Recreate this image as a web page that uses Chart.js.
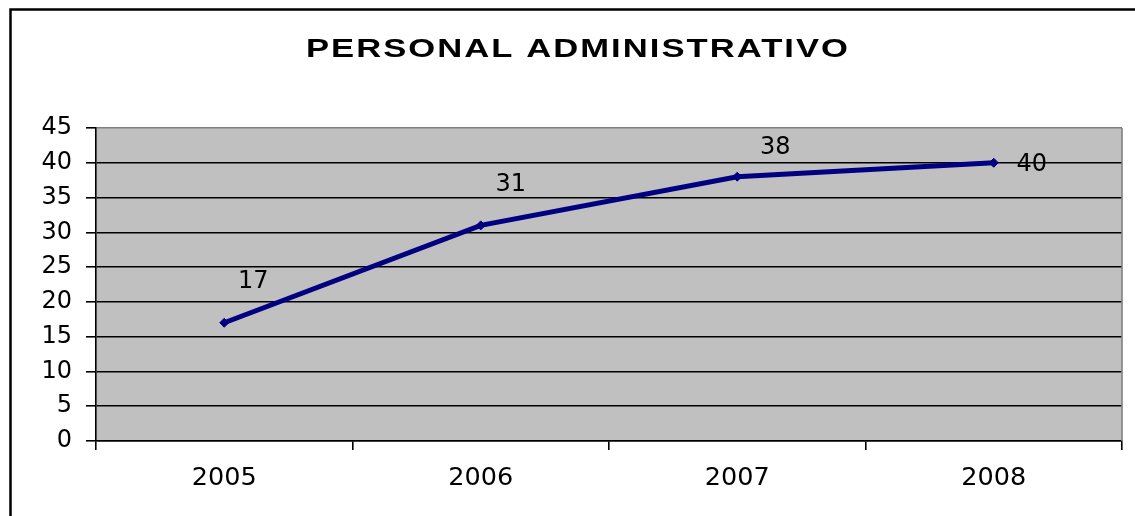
<!DOCTYPE html>
<html>
<head>
<meta charset="utf-8">
<script src="https://cdn.jsdelivr.net/npm/chart.js@4.4.1/dist/chart.umd.min.js"></script>
<style>
  html, body { margin: 0; padding: 0; background: #ffffff; }
  #wrap { width: 1135px; height: 516px; }
</style>
</head>
<body>
<div id="wrap"><canvas id="c" width="1135" height="516"></canvas></div>
<script>
// ---- data ----
const chartTitle = 'PERSONAL ADMINISTRATIVO';
const categories = ['2005', '2006', '2007', '2008'];
const personalValues = [17, 31, 38, 40];
const yMin = 0;
const yMax = 45;
const yStep = 5;

// ---- plugins ----
const framePlugin = {
  id: 'frame',
  beforeDraw(chart) {
    const { ctx, chartArea: a } = chart;
    ctx.save();
    ctx.fillStyle = '#ffffff';
    ctx.fillRect(0, 0, chart.width, chart.height);
    ctx.fillStyle = '#C0C0C0';
    ctx.fillRect(a.left, a.top, a.right - a.left, a.bottom - a.top);
    ctx.restore();
  },
  afterDraw(chart) {
    const { ctx, chartArea: a } = chart;
    ctx.save();
    // right plot border (gray)
    ctx.strokeStyle = '#808080';
    ctx.lineWidth = 1.6;
    ctx.beginPath();
    ctx.moveTo(a.right, a.top);
    ctx.lineTo(a.right, a.bottom);
    ctx.stroke();
    // outer chart frame
    ctx.strokeStyle = '#000000';
    ctx.lineWidth = 2.5;
    ctx.strokeRect(10.5, 9.5, 1200, 700);
    // title (horizontally widened, as in the reference)
    ctx.fillStyle = '#000000';
    ctx.font = 'bold 25.5px "Liberation Sans", Arial, sans-serif';
    ctx.letterSpacing = '1.5px';
    ctx.textBaseline = 'alphabetic';
    ctx.textAlign = 'center';
    const w = ctx.measureText(chartTitle).width - 1.5;
    const sx = 542 / w;
    ctx.translate(577, 57);
    ctx.scale(sx, 1);
    ctx.fillText(chartTitle, 0.75, 0);
    ctx.restore();
  }
};

const pointLabelPlugin = {
  id: 'pointLabels',
  afterDatasetsDraw(chart, args, opts) {
    const { ctx } = chart;
    const meta = chart.getDatasetMeta(0);
    const data = chart.data.datasets[0].data;
    ctx.save();
    ctx.fillStyle = '#000000';
    ctx.font = '24px "DejaVu Sans", sans-serif';
    ctx.textAlign = 'center';
    ctx.textBaseline = 'middle';
    meta.data.forEach((pt, i) => {
      const off = opts.offsets[i] || [0, -30];
      ctx.fillText(String(data[i]), pt.x + off[0], pt.y + off[1]);
    });
    ctx.restore();
  }
};

new Chart(document.getElementById('c'), {
  type: 'line',
  data: {
    labels: categories,
    datasets: [{
      label: chartTitle,
      data: personalValues,
      borderColor: '#000080',
      backgroundColor: '#000080',
      borderWidth: 5,
      pointStyle: 'rectRot',
      pointRadius: 4.5,
      pointBorderWidth: 1,
      pointBackgroundColor: '#000080',
      pointBorderColor: '#000080',
      tension: 0,
      clip: false
    }]
  },
  options: {
    responsive: false,
    animation: false,
    devicePixelRatio: 1,
    layout: { padding: { left: 0, right: 13, top: 128, bottom: 0 } },
    plugins: {
      legend: { display: false },
      title: { display: false },
      tooltip: { enabled: false },
      pointLabels: { offsets: [[29, -41], [30, -41], [38, -29], [38, 2]] }
    },
    scales: {
      x: {
        type: 'category',
        offset: true,
        afterFit(scale) { scale.height = 75; },
        grid: {
          offset: true,
          drawOnChartArea: false,
          drawTicks: true,
          tickLength: 9,
          color: '#000000',
          tickColor: '#000000',
          lineWidth: 1.6
        },
        border: { display: true, color: '#000000', width: 1.6 },
        ticks: {
          color: '#000000',
          padding: 13,
          maxRotation: 0,
          font: { family: '"DejaVu Sans", sans-serif', size: 25.5, lineHeight: 1.2 }
        }
      },
      y: {
        min: yMin,
        max: yMax,
        afterFit(scale) { scale.width = 96; },
        grid: {
          drawTicks: true,
          tickLength: 10,
          color: (c) => (c.tick && c.tick.value === yMax) ? '#808080' : '#000000',
          tickColor: '#000000',
          lineWidth: 1.6
        },
        border: { display: true, color: '#000000', width: 1.6 },
        ticks: {
          stepSize: yStep,
          color: '#000000',
          padding: 14,
          font: { family: '"DejaVu Sans", sans-serif', size: 24, lineHeight: 1.2 }
        }
      }
    }
  },
  plugins: [framePlugin, pointLabelPlugin]
});
</script>
</body>
</html>
